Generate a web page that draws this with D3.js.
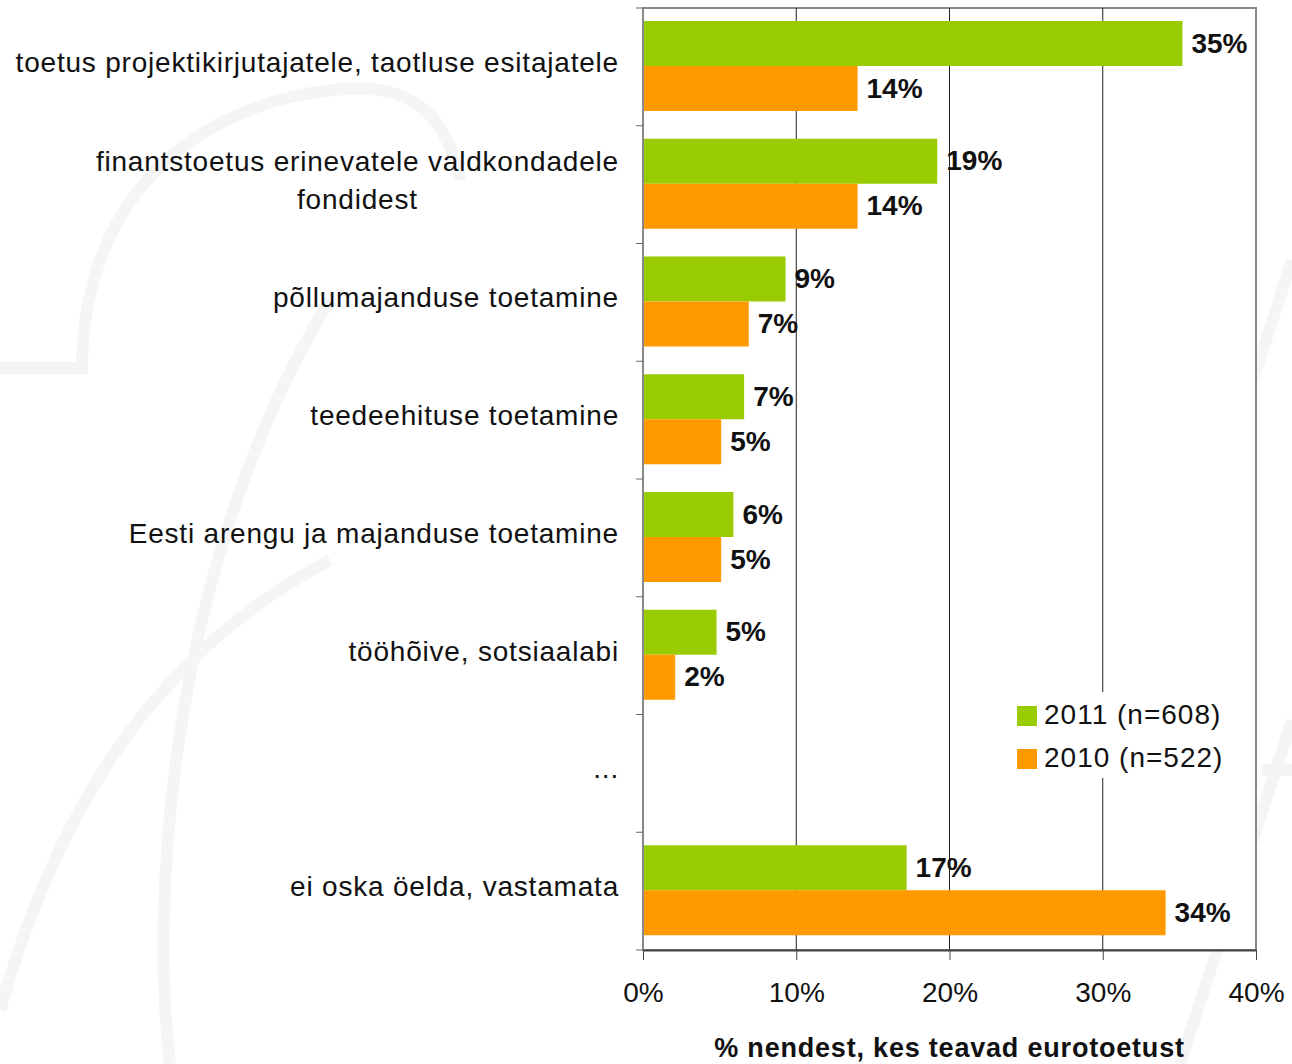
<!DOCTYPE html>
<html>
<head>
<meta charset="utf-8">
<script src="https://cdn.jsdelivr.net/npm/d3@7"></script>
<style>
  body { margin: 0; background: #fff; }
  text { font-family: "Liberation Sans", Arial, sans-serif; }
</style>
</head>
<body>
<div id="chart"></div>
<script>
var categories = [
  'toetus projektikirjutajatele, taotluse esitajatele',
  'finantstoetus erinevatele valdkondadele\nfondidest',
  'põllumajanduse toetamine',
  'teedeehituse toetamine',
  'Eesti arengu ja majanduse toetamine',
  'tööhõive, sotsiaalabi',
  '...',
  'ei oska öelda, vastamata'
];
var seriesNames = ['2011 (n=608)', '2010 (n=522)'];
var values2011 = [35.2, 19.2, 9.3, 6.6, 5.9, 4.8, null, 17.2];
var values2010 = [14.0, 14.0, 6.9, 5.1, 5.1, 2.1, null, 34.1];
var xTicks = [0, 10, 20, 30, 40];
var colors = ['#99cc00', '#ff9900'];

var width = 1292, height = 1064;
var plot = {left: 643, right: 1256, top: 8, bottom: 950};

var svg = d3.select('#chart').append('svg')
  .attr('width', width)
  .attr('height', height);

// faint watermark behind everything
var wm = svg.append('g')
  .attr('fill', 'none')
  .attr('stroke', '#f5f5f5')
  .attr('stroke-width', 12);
wm.append('path').attr('d', 'M0,368 L82,368 C82,250 140,130 300,95 C380,80 440,85 460,180');
wm.append('path').attr('d', 'M170,1064 C150,900 170,560 330,300');
wm.append('path').attr('d', 'M0,1010 C60,800 160,650 330,560');
wm.append('path').attr('d', 'M1180,1064 L1292,720');
wm.append('path').attr('d', 'M1240,420 L1292,260');
wm.append('path').attr('d', 'M1262,770 L1292,770');

var x = d3.scaleLinear().domain([0, 40]).range([plot.left, plot.right]);
var y = d3.scaleBand().domain(categories).range([plot.top, plot.bottom]);
var ySub = d3.scaleBand().domain(seriesNames).range([13, 103]);

// plot area
svg.append('rect')
  .attr('x', plot.left).attr('y', plot.top)
  .attr('width', plot.right - plot.left).attr('height', plot.bottom - plot.top)
  .attr('fill', '#fff')
  .attr('stroke', '#888').attr('stroke-width', 2);

// gridlines
svg.append('g').selectAll('line')
  .data(xTicks.slice(1, -1))
  .enter().append('line')
  .attr('x1', function(d) { return x(d); })
  .attr('x2', function(d) { return x(d); })
  .attr('y1', plot.top).attr('y2', plot.bottom)
  .attr('stroke', '#222').attr('stroke-width', 1);

// bars
var data = categories.map(function(c, i) {
  return {cat: c, vals: [values2011[i], values2010[i]]};
});

var group = svg.append('g').selectAll('g')
  .data(data)
  .enter().append('g')
  .attr('transform', function(d) { return 'translate(0,' + y(d.cat) + ')'; });

function present(d) {
  return d.vals.map(function(v, j) { return {v: v, s: seriesNames[j], j: j}; })
    .filter(function(e) { return e.v != null; });
}

group.selectAll('rect')
  .data(present)
  .enter().append('rect')
  .attr('x', x(0))
  .attr('y', function(d) { return ySub(d.s); })
  .attr('width', function(d) { return x(d.v) - x(0); })
  .attr('height', ySub.bandwidth())
  .attr('fill', function(d) { return colors[d.j]; });

group.selectAll('text.val')
  .data(present)
  .enter().append('text')
  .attr('class', 'val')
  .attr('x', function(d) { return x(d.v) + 9; })
  .attr('y', function(d) { return ySub(d.s) + ySub.bandwidth() / 2 + 9; })
  .attr('font-size', 28)
  .attr('font-weight', 'bold')
  .attr('fill', '#111')
  .text(function(d) { return Math.round(d.v) + '%'; });

// left axis
var yAxis = svg.append('g')
  .attr('transform', 'translate(' + plot.left + ',0)');
yAxis.append('line')
  .attr('x1', 0).attr('x2', 0).attr('y1', plot.top).attr('y2', plot.bottom)
  .attr('stroke', '#888').attr('stroke-width', 2);
yAxis.selectAll('line.tick')
  .data(categories.concat(['end']))
  .enter().append('line')
  .attr('class', 'tick')
  .attr('x1', -7).attr('x2', 0)
  .attr('y1', function(d, i) { return plot.top + i * y.step(); })
  .attr('y2', function(d, i) { return plot.top + i * y.step(); })
  .attr('stroke', '#666').attr('stroke-width', 1);

var catLabels = svg.append('g').selectAll('text')
  .data(categories)
  .enter().append('text')
  .attr('font-size', 28)
  .attr('letter-spacing', 0.8)
  .attr('fill', '#111')
  .attr('text-anchor', 'middle')
  .attr('transform', function(d) { return 'translate(0,' + (y(d) + y.bandwidth() / 2) + ')'; });

catLabels.each(function(d) {
  var lines = d.split('\n');
  var t = d3.select(this);
  var offset = -(lines.length - 1) * 19 + 5;
  var spans = lines.map(function(l, k) {
    return t.append('tspan').attr('x', 0).attr('y', offset + k * 38).text(l);
  });
  var w = d3.max(spans, function(s) { return s.node().getComputedTextLength(); });
  spans.forEach(function(s) { s.attr('x', 619 - w / 2); });
});

// bottom axis
var xAxis = svg.append('g')
  .attr('transform', 'translate(0,' + plot.bottom + ')')
  .call(d3.axisBottom(x).tickValues(xTicks).tickSize(10).tickSizeOuter(0).tickPadding(22)
    .tickFormat(function(d) { return d + '%'; }));
xAxis.select('.domain').attr('stroke', '#444').attr('stroke-width', 2);
xAxis.selectAll('.tick line').attr('stroke', '#444');
xAxis.selectAll('.tick text')
  .attr('font-size', 28)
  .attr('font-family', '"Liberation Sans", Arial, sans-serif')
  .attr('fill', '#111');

svg.append('text')
  .attr('x', (plot.left + plot.right) / 2)
  .attr('y', 1057)
  .attr('text-anchor', 'middle')
  .attr('font-size', 27)
  .attr('letter-spacing', 0.8)
  .attr('font-weight', 'bold')
  .attr('fill', '#111')
  .text('% nendest, kes teavad eurotoetust');

// legend (white box hides the gridline behind it)
svg.append('rect')
  .attr('x', 1008).attr('y', 692)
  .attr('width', 232).attr('height', 86)
  .attr('fill', '#fff');
var legend = svg.append('g').attr('transform', 'translate(1017,706)');
var li = legend.selectAll('g')
  .data(seriesNames)
  .enter().append('g')
  .attr('transform', function(d, i) { return 'translate(0,' + i * 43 + ')'; });
li.append('rect')
  .attr('width', 20).attr('height', 20)
  .attr('fill', function(d, i) { return colors[i]; });
li.append('text')
  .attr('x', 27).attr('y', 18)
  .attr('font-size', 28)
  .attr('letter-spacing', 1)
  .attr('fill', '#111')
  .text(function(d) { return d; });
</script>
</body>
</html>
